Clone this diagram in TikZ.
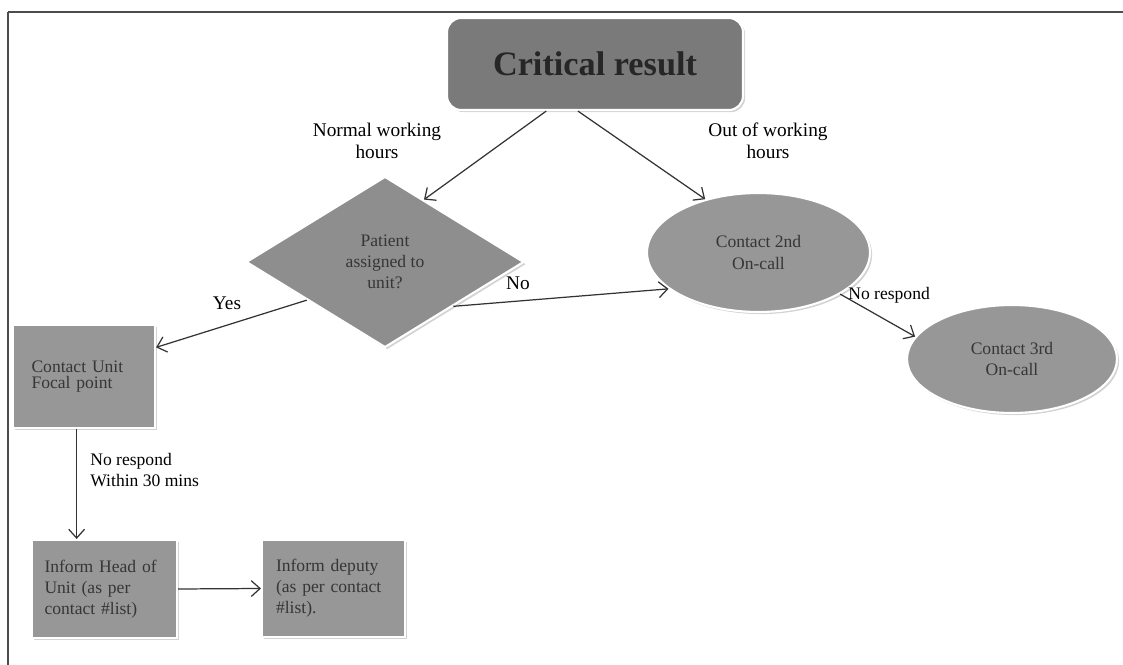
\documentclass[tikz,border=0pt]{standalone}
\usepackage{fontspec}
\setmainfont{Liberation Serif}
\usepackage{tikz}
\usetikzlibrary{shapes.geometric, shadows, arrows.meta}
\definecolor{critfill}{HTML}{7A7A7A}
\definecolor{diamfill}{HTML}{8E8E8E}
\definecolor{boxfill}{HTML}{979797}
\definecolor{boxtext}{HTML}{363636}
\tikzset{
  shapebox/.style={draw=white, line width=1.2pt, fill=boxfill, text=boxtext, font=\fontsize{10}{12}\selectfont, drop shadow={opacity=.35, shadow xshift=1.2pt, shadow yshift=-1.2pt}},
  rectbox/.style={shapebox, rectangle, minimum width=2.9cm, minimum height=1.96cm, align=left, inner sep=0pt},
  ovalbox/.style={shapebox, ellipse, align=center},
  flowarrow/.style={-{Straight Barb[length=5pt,width=9pt]}, line width=0.7pt, draw=black!80},
  note/.style={font=\fontsize{11}{12.5}\selectfont, align=center, inner sep=0pt},
  frameline/.style={line width=1.1pt, draw=black!70},
}
\begin{document}
\begin{tikzpicture}[x=0.02cm, y=-0.02cm]
\useasboundingbox (0,0) rectangle (1123,665);
\coordinate (corner) at (8,12);
\coordinate (topend) at (1123,12);
\coordinate (leftend) at (8,665);
\draw[frameline] (corner) -- (topend);
\draw[frameline] (corner) -- (leftend);
\node[shapebox, rectangle, rounded corners=8pt, fill=critfill, minimum width=5.92cm, minimum height=1.84cm, text=black!85, font=\fontsize{19.5}{23}\selectfont\bfseries] (crit) at (595,64) {Critical result};
\node[shapebox, diamond, fill=diamfill, minimum width=5.56cm, minimum height=3.42cm, inner sep=0pt, align=center] (diam) at (385,262) {Patient\\assigned to\\unit?};
\node[ovalbox, minimum width=4.46cm, minimum height=2.38cm] (oncall2) at (758.5,252.5) {Contact 2nd\\On-call};
\node[ovalbox, minimum width=4.2cm, minimum height=2.16cm] (oncall3) at (1012,359) {Contact 3rd\\On-call};
\node[rectbox, minimum width=2.84cm, minimum height=2.06cm, text width=2.1cm, font=\fontsize{10}{9}\selectfont] (unit) at (84,376.5) {Contact Unit\\Focal point};
\node[rectbox, text width=2.4cm] (head) at (104.5,589) {Inform Head of\\Unit (as per\\contact \#list)};
\node[rectbox, minimum width=2.86cm, minimum height=1.94cm, text width=2.3cm] (deputy) at (333.5,588.5) {Inform deputy\\(as per contact\\\#list).};
\node[note] (normal) at (377,141) {Normal working\\hours};
\node[note] (outof) at (768,141) {Out of working\\hours};
\node[note] (yes) at (227,303) {Yes};
\node[note] (no) at (518,283) {No};
\node[note, anchor=west, font=\fontsize{10}{12}\selectfont] (norespond) at (848,295) {No respond};
\node[note, anchor=west, align=left, font=\fontsize{10}{12}\selectfont] (noresp30) at (90,470) {No respond\\Within 30 mins};
\draw[flowarrow] (crit.224) -- (diam.58);
\draw[flowarrow] (crit.250) -- (oncall2.135);
\draw[flowarrow] (diam.206) -- (unit.22);
\draw[flowarrow] (diam.327) -- (oncall2.202);
\draw[flowarrow] (oncall2.333) -- (oncall3.167);
\draw[flowarrow] (unit.262) -- (unit.262 |- head.north);
\draw[flowarrow] (head.east) -- (deputy.west);
\end{tikzpicture}
\end{document}
